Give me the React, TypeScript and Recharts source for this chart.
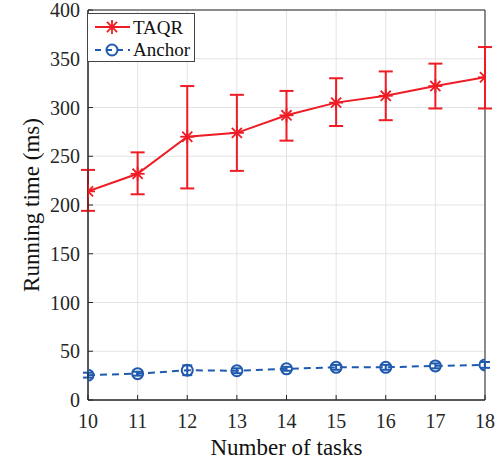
import { LineChart, Line, XAxis, YAxis, CartesianGrid, ErrorBar, Label, ReferenceArea } from 'recharts';

const tasks = [10, 11, 12, 13, 14, 15, 16, 17, 18];
const taqrMean = [214, 232, 270, 274, 292, 305, 312, 322, 331];
const taqrLow = [194, 211, 217, 235, 266, 281, 287, 299, 299];
const taqrHigh = [236, 254, 322, 313, 317, 330, 337, 345, 362];
const anchorMean = [25.5, 27, 30.5, 30, 32, 33.5, 33.5, 35, 36];
const anchorLow = [23, 25, 25.5, 27.5, 30, 31, 31, 32.5, 33];
const anchorHigh = [28, 29, 35.5, 32.5, 34, 36, 36, 37.5, 39];
const yTicks = [0, 50, 100, 150, 200, 250, 300, 350, 400];

const RED = '#EE1C25';
const BLUE = '#1F5AAE';
const AXIS = '#262626';
const FONT = '"Liberation Serif", "Times New Roman", serif';

const data = tasks.map((t, i) => ({
  task: t,
  taqr: taqrMean[i],
  taqrErr: [taqrMean[i] - taqrLow[i], taqrHigh[i] - taqrMean[i]],
  anchor: anchorMean[i],
  anchorErr: [anchorMean[i] - anchorLow[i], anchorHigh[i] - anchorMean[i]],
}));

function Asterisk({ cx, cy, color, r = 7 }: any) {
  if (cx == null || cy == null) return null;
  const d = r * 0.72;
  return (
    <g stroke={color} strokeWidth={1.8}>
      <line x1={cx - r} y1={cy} x2={cx + r} y2={cy} />
      <line x1={cx} y1={cy - r} x2={cx} y2={cy + r} />
      <line x1={cx - d} y1={cy - d} x2={cx + d} y2={cy + d} />
      <line x1={cx - d} y1={cy + d} x2={cx + d} y2={cy - d} />
    </g>
  );
}

function OpenCircle({ cx, cy, color }: any) {
  if (cx == null || cy == null) return null;
  return <circle cx={cx} cy={cy} r={5.5} fill="none" stroke={color} strokeWidth={2} />;
}

function BottomTick({ x, y, payload }: any) {
  return (
    <g>
      <line x1={x} y1={y} x2={x} y2={y - 5} stroke={AXIS} />
      <text x={x} y={y + 28} textAnchor="middle" fontFamily={FONT} fontSize={20} fill={AXIS}>
        {payload.value}
      </text>
    </g>
  );
}

function LeftTick({ x, y, payload }: any) {
  return (
    <g>
      <line x1={x} y1={y} x2={x + 5} y2={y} stroke={AXIS} />
      <text x={x - 8} y={y + 7} textAnchor="end" fontFamily={FONT} fontSize={20} fill={AXIS}>
        {payload.value}
      </text>
    </g>
  );
}

function TopTick({ x, y }: any) {
  return <line x1={x} y1={y} x2={x} y2={y + 5} stroke={AXIS} />;
}

function RightTick({ x, y }: any) {
  return <line x1={x} y1={y} x2={x - 5} y2={y} stroke={AXIS} />;
}

// legend drawn as an svg overlay so its text uses the same metrics as the axes
function LegendBox() {
  return (
    <svg width={120} height={60} style={{ position: 'absolute', left: 80, top: 5 }}>
      <rect x={7.5} y={8.5} width={107} height={48} fill="#fff" stroke="#444" />
      <line x1={15} y1={22} x2={50} y2={22} stroke={RED} strokeWidth={2} />
      <Asterisk cx={32} cy={22} color={RED} />
      <text x={53} y={29} fontFamily={FONT} fontSize={19} fill="#111">TAQR</text>
      <line x1={15} y1={45} x2={50} y2={45} stroke={BLUE} strokeWidth={2} strokeDasharray="6 5" />
      <OpenCircle cx={32} cy={45} color={BLUE} />
      <text x={53} y={51} fontFamily={FONT} fontSize={19} fill="#111">Anchor</text>
    </svg>
  );
}

export default function App() {
  return (
    <div style={{ position: 'absolute', left: 0, top: 0, width: 499, height: 461, background: '#fff' }}>
      <LineChart width={499} height={461} data={data} margin={{ top: 10, right: 14, left: 0, bottom: 0 }}>
        <CartesianGrid stroke="#e3e3e3" strokeWidth={1} />
        <XAxis
          dataKey="task"
          type="number"
          domain={[10, 18]}
          ticks={tasks}
          height={61}
          tickSize={0}
          tickMargin={0}
          tick={<BottomTick />}
          stroke={AXIS}
          allowDataOverflow
        >
          <Label
            content={({ viewBox }: any) => (
              <text x={viewBox.x + viewBox.width / 2} y={455} textAnchor="middle" fontFamily={FONT} fontSize={23} fill="#111">
                Number of tasks
              </text>
            )}
          />
        </XAxis>
        <XAxis xAxisId="top" orientation="top" type="number" domain={[10, 18]} ticks={tasks} height={0} tickSize={0} tick={<TopTick />} stroke={AXIS} allowDataOverflow />
        <YAxis
          domain={[0, 400]}
          ticks={yTicks}
          width={88}
          tickSize={0}
          tickMargin={0}
          tick={<LeftTick />}
          stroke={AXIS}
          allowDataOverflow
        >
          <Label
            content={({ viewBox }: any) => {
              const cy = viewBox.y + viewBox.height / 2;
              return (
                <text x={39} y={cy} transform={`rotate(-90 39 ${cy})`} textAnchor="middle" fontFamily={FONT} fontSize={23} fill="#111">
                  Running time (ms)
                </text>
              );
            }}
          />
        </YAxis>
        <YAxis yAxisId="right" orientation="right" domain={[0, 400]} ticks={yTicks} width={0} tickSize={0} tick={<RightTick />} stroke={AXIS} allowDataOverflow />
        <ReferenceArea x1={10} x2={18} y1={0} y2={400} fill="none" stroke={AXIS} strokeWidth={1} ifOverflow="visible" />
        <Line
          dataKey="taqr"
          name="TAQR"
          stroke={RED}
          strokeWidth={2}
          isAnimationActive={false}
          dot={(p: any) => <Asterisk key={`t${p.index}`} cx={p.cx} cy={p.cy} color={RED} />}
          activeDot={false}
        >
          <ErrorBar dataKey="taqrErr" width={7} stroke={RED} strokeWidth={2} direction="y" />
        </Line>
        <Line
          dataKey="anchor"
          name="Anchor"
          stroke={BLUE}
          strokeWidth={2}
          strokeDasharray="7 5"
          isAnimationActive={false}
          dot={(p: any) => <OpenCircle key={`a${p.index}`} cx={p.cx} cy={p.cy} color={BLUE} />}
          activeDot={false}
        >
          <ErrorBar dataKey="anchorErr" width={5} stroke={BLUE} strokeWidth={2} direction="y" />
        </Line>
      </LineChart>
      <LegendBox />
    </div>
  );
}
